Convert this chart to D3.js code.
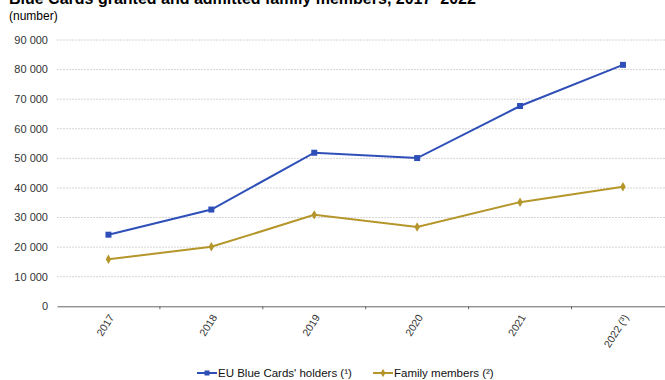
<!DOCTYPE html>
<html>
<head>
<meta charset="utf-8">
<script src="https://cdn.jsdelivr.net/npm/d3@7"></script>
<style>
  html, body { margin: 0; padding: 0; background: #fff; }
  svg { display: block; font-family: "Liberation Sans", Arial, sans-serif; }
</style>
</head>
<body>
<svg id="chart" width="665" height="380"></svg>
<script>
// Years shown on the horizontal axis
const years = ["2017", "2018", "2019", "2020", "2021", "2022 (³)"];
// EU Blue Cards granted
const blueCards = [24200, 32700, 51900, 50100, 67700, 81600];
// Family members admitted
const familyMembers = [15900, 20100, 30900, 26800, 35200, 40400];
// Value axis ticks
const yTicks = [0, 10000, 20000, 30000, 40000, 50000, 60000, 70000, 80000, 90000];

const seriesNames = ["EU Blue Cards' holders (¹)", "Family members (²)"];
const colors = ["#2f4fb8", "#b5962a"];

const svg = d3.select("#chart");
const plotLeft = 57, plotTop = 40, plotBottom = 306.3;
const band = 102.9;

const x = d3.scaleBand().domain(years).range([plotLeft, plotLeft + band * years.length]).padding(0);
const y = d3.scaleLinear().domain([0, 90000]).range([plotBottom, plotTop]);

// Title (runs off the top edge of the frame) and unit
svg.append("text")
  .attr("x", 9).attr("y", 4)
  .attr("font-size", 16).attr("font-weight", "bold").attr("fill", "#000")
  .text("Blue Cards granted and admitted family members, 2017–2022");
svg.append("text")
  .attr("x", 9).attr("y", 20)
  .attr("font-size", 12).attr("fill", "#000")
  .text("(number)");

// Horizontal gridlines
const fmt = v => d3.format(",")(v).replace(/,/g, " ");
svg.append("g")
  .selectAll("line")
  .data(yTicks.filter(d => d > 0))
  .join("line")
  .attr("x1", plotLeft).attr("x2", 665)
  .attr("y1", d => y(d)).attr("y2", d => y(d))
  .attr("stroke", "#d4d4d4").attr("stroke-width", 1)
  .attr("stroke-dasharray", "2,1");

// Y axis labels
svg.append("g")
  .selectAll("text")
  .data(yTicks)
  .join("text")
  .attr("x", 48).attr("y", d => y(d))
  .attr("dy", "0.35em")
  .attr("text-anchor", "end")
  .attr("font-size", 11).attr("fill", "#333")
  .text(fmt);

// X axis baseline with ticks between categories
const xAxis = svg.append("g").attr("transform", `translate(0,${plotBottom})`)
  .call(d3.axisBottom(x).tickSize(0).tickFormat(""));
xAxis.select(".domain").attr("stroke", "#666").attr("stroke-width", 1);
xAxis.append("g")
  .selectAll("line")
  .data(years.slice(1))
  .join("line")
  .attr("x1", d => x(d)).attr("x2", d => x(d))
  .attr("y1", 0).attr("y2", 3)
  .attr("stroke", "#666");

// Rotated category labels
svg.append("g")
  .selectAll("text")
  .data(years)
  .join("text")
  .attr("transform", d => `translate(${x(d) + x.bandwidth() / 2 + 3},${plotBottom + 9}) rotate(-58)`)
  .attr("text-anchor", "end")
  .attr("dy", "0.35em")
  .attr("font-size", 10.5).attr("fill", "#333")
  .text(d => d);

// Lines and markers
const cx = d => x(d) + x.bandwidth() / 2;
const line = d3.line().x(d => cx(d.year)).y(d => y(d.value));
const series = [blueCards, familyMembers].map((vals, i) => ({
  name: seriesNames[i],
  color: colors[i],
  points: vals.map((v, j) => ({ year: years[j], value: v }))
}));

series.forEach((s, i) => {
  svg.append("path")
    .datum(s.points)
    .attr("d", line)
    .attr("fill", "none")
    .attr("stroke", s.color)
    .attr("stroke-width", 2);
  const sym = d3.symbol().type(i === 0 ? d3.symbolSquare : d3.symbolDiamond).size(i === 0 ? 36 : 26);
  svg.append("g")
    .selectAll("path")
    .data(s.points)
    .join("path")
    .attr("transform", d => `translate(${cx(d.year)},${y(d.value)})`)
    .attr("d", sym)
    .attr("fill", s.color);
});

// Legend
const legendY = 373;
const legendX = [197, 373];
series.forEach((s, i) => {
  const g = svg.append("g").attr("transform", `translate(${legendX[i]},${legendY})`);
  g.append("line").attr("x1", 0).attr("x2", 20).attr("y1", 0).attr("y2", 0)
    .attr("stroke", s.color).attr("stroke-width", 2);
  g.append("path")
    .attr("transform", "translate(10,0)")
    .attr("d", d3.symbol().type(i === 0 ? d3.symbolSquare : d3.symbolDiamond).size(i === 0 ? 25 : 20))
    .attr("fill", s.color);
  g.append("text")
    .attr("x", 21).attr("dy", "0.35em")
    .attr("font-size", 11.5).attr("fill", "#111")
    .text(s.name);
});
</script>
</body>
</html>
